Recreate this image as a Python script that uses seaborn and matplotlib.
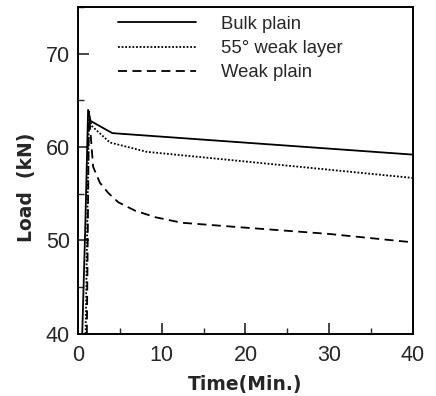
import matplotlib
matplotlib.use("Agg")
import matplotlib.pyplot as plt
import seaborn as sns
import pandas as pd
from matplotlib.ticker import MultipleLocator

# Load-relaxation records (time in minutes, load in kN)
bulk_time = [0.5, 0.85, 1.2, 1.5, 4.1, 40.0]
bulk_load = [40.0, 51.0, 64.0, 62.8, 61.5, 59.2]

layer55_time = [0.9, 1.3, 1.6, 3.8, 8.2, 40.0]
layer55_load = [40.0, 63.5, 62.3, 60.5, 59.5, 56.7]

weak_time = [1.05, 1.3, 1.8, 2.6, 3.6, 4.8, 6.8, 9.2, 12.4, 19.6, 30.0, 40.0]
weak_load = [40.0, 63.8, 57.9, 56.2, 55.1, 54.1, 53.2, 52.5, 51.9, 51.4, 50.7, 49.8]

series_names = ["Bulk plain", "55\u00b0 weak layer", "Weak plain"]
x_ticks = [0, 10, 20, 30, 40]
y_ticks = [40, 50, 60, 70]

frames = []
for name, t, v in zip(series_names,
                      [bulk_time, layer55_time, weak_time],
                      [bulk_load, layer55_load, weak_load]):
    frames.append(pd.DataFrame({"Time": t, "Load": v, "Series": name}))
df = pd.concat(frames, ignore_index=True)

sns.set_style("ticks")
plt.rcParams["font.family"] = ["Liberation Sans", "DejaVu Sans"]

fig = plt.figure(figsize=(4.36, 3.96), dpi=100)
ax = fig.add_axes([0.179, 0.157, 0.768, 0.825])

sns.lineplot(data=df, x="Time", y="Load", style="Series", hue="Series",
             palette=["black"] * 3,
             dashes={"Bulk plain": "", "55\u00b0 weak layer": (1, 1),
                     "Weak plain": (5, 3)},
             sort=False, estimator=None, linewidth=1.3, ax=ax)

ax.set_xlim(0, 40)
ax.set_ylim(40, 75)
ax.set_xticks(x_ticks)
ax.set_yticks(y_ticks)
ax.xaxis.set_minor_locator(MultipleLocator(5))
ax.yaxis.set_minor_locator(MultipleLocator(5))
ax.tick_params(which="major", direction="in", length=8, width=1.2,
               labelsize=15.5, top=False, right=False)
ax.tick_params(axis="x", which="major", pad=8)
ax.tick_params(axis="y", which="major", pad=6)
ax.tick_params(which="minor", direction="in", length=4, width=1.0,
               top=False, right=False)
for s in ax.spines.values():
    s.set_linewidth(1.4)
    s.set_color("black")

label_font = dict(fontsize=13.5, fontweight="bold", family="DejaVu Sans")
ax.set_xlabel("Time(Min.)", **label_font)
ax.set_ylabel("Load  (kN)", **label_font)
ax.xaxis.set_label_coords(0.5, -0.125)
ax.yaxis.set_label_coords(-0.125, 0.45)

leg = ax.legend(loc="upper left", bbox_to_anchor=(0.07, 1.025), frameon=False,
                fontsize=13.3, handlelength=4.2, handletextpad=1.35,
                labelspacing=0.4, title=None)
for line in leg.get_lines():
    line.set_linewidth(1.3)

fig.savefig("out.png", dpi=100)
